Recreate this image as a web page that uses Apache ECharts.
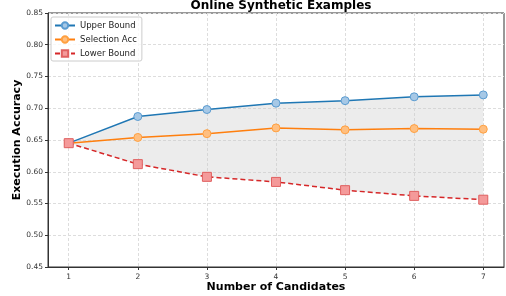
<!DOCTYPE html>
<html lang="en" style="height: 100%">
<head>
    <meta charset="utf-8">
</head>
<body style="height: 100%; margin: 0">
<div id="container" style="width: 506px; height: 296px"></div>
<script type="text/javascript" src="https://fastly.jsdelivr.net/npm/echarts@6/dist/echarts.min.js"></script>
<script type="text/javascript">

    const candidates = [1, 2, 3, 4, 5, 6, 7];
    const upperBound = [0.645, 0.687, 0.698, 0.708, 0.712, 0.718, 0.721];
    const selectionAcc = [0.645, 0.654, 0.660, 0.669, 0.666, 0.668, 0.667];
    const lowerBound = [0.645, 0.612, 0.592, 0.584, 0.571, 0.562, 0.556];

    const font = 'DejaVu Sans';

    var dom = document.getElementById('container');
    var myChart = echarts.init(dom, null, { renderer: 'canvas' });

    const pairs = arr => candidates.map((c, i) => [c, arr[i]]);
    const bandData = candidates.map((c, i) => [c, lowerBound[i], upperBound[i]]);

    // shaded band between lower and upper bound, one polygon through axis coords
    function renderBand(params, api) {
        if (params.dataIndex !== 0) {
            return null;
        }
        const top = [], bottom = [];
        for (let i = 0; i < bandData.length; i++) {
            top.push(api.coord([bandData[i][0], bandData[i][2]]));
            bottom.unshift(api.coord([bandData[i][0], bandData[i][1]]));
        }
        return {
            type: 'polygon',
            shape: { points: top.concat(bottom) },
            style: { fill: 'rgba(200,200,200,0.35)' },
            silent: true
        };
    }

    const option = {
        animation: false,
        textStyle: { fontFamily: font },
        title: {
            text: 'Online Synthetic Examples',
            left: 276,
            textAlign: 'center',
            top: -5,
            textStyle: { fontFamily: font, fontSize: 12, fontWeight: 'bold', color: '#000' }
        },
        legend: {
            data: ['Upper Bound', 'Selection Acc', 'Lower Bound'],
            orient: 'vertical',
            left: 51,
            top: 17,
            itemWidth: 20,
            itemHeight: 8,
            itemGap: 5,
            padding: [4, 5, 3, 3],
            borderColor: '#ccc',
            borderWidth: 1,
            borderRadius: 2,
            backgroundColor: 'rgba(255,255,255,0.8)',
            textStyle: { fontFamily: font, fontSize: 8.5, color: '#222' }
        },
        grid: {
            left: 48,
            right: 2,
            top: 13,
            bottom: 29,
            outerBoundsMode: 'none',
            show: true,
            borderColor: '#333',
            borderWidth: 1
        },
        xAxis: {
            type: 'value',
            min: 0.7,
            max: 7.3,
            name: 'Number of Candidates',
            nameLocation: 'middle',
            nameGap: 15,
            nameMoveOverlap: false,
            nameTextStyle: { fontFamily: font, fontSize: 11, fontWeight: 'bold', color: '#000' },
            axisLine: { show: true, onZero: false, lineStyle: { color: '#333' } },
            axisTick: { show: true, length: 3, customValues: candidates, lineStyle: { color: '#333' } },
            axisLabel: { customValues: candidates, fontSize: 7.5, color: '#333', margin: 6 },
            splitLine: { show: true, lineStyle: { color: '#ddd', type: [3, 2] } }
        },
        yAxis: {
            type: 'value',
            min: 0.45,
            max: 0.85,
            interval: 0.05,
            name: 'Execution Accuracy',
            nameLocation: 'middle',
            nameGap: 25,
            nameMoveOverlap: false,
            nameTextStyle: { fontFamily: font, fontSize: 11, fontWeight: 'bold', color: '#000' },
            axisLine: { show: true, lineStyle: { color: '#333' } },
            axisTick: { show: true, length: 3, lineStyle: { color: '#333' } },
            axisLabel: { fontSize: 7.5, color: '#333', margin: 5, formatter: v => v.toFixed(2) },
            splitLine: { show: true, lineStyle: { color: '#ddd', type: [3, 2] } }
        },
        series: [
            {
                name: 'band',
                type: 'custom',
                renderItem: renderBand,
                data: bandData,
                encode: { x: 0, y: [1, 2] },
                silent: true,
                z: 1
            },
            {
                name: 'Upper Bound',
                type: 'line',
                data: pairs(upperBound),
                color: '#1f77b4',
                symbol: 'circle',
                symbolSize: 8,
                lineStyle: { color: '#1f77b4', width: 1.5 },
                itemStyle: { color: '#a6c8e6', borderColor: '#5a9bd0', borderWidth: 1 },
                z: 3
            },
            {
                name: 'Selection Acc',
                type: 'line',
                data: pairs(selectionAcc),
                color: '#ff7f0e',
                symbol: 'circle',
                symbolSize: 8,
                lineStyle: { color: '#ff7f0e', width: 1.5 },
                itemStyle: { color: '#ffbf80', borderColor: '#ffa040', borderWidth: 1 },
                z: 3
            },
            {
                name: 'Lower Bound',
                type: 'line',
                data: pairs(lowerBound),
                color: '#d62728',
                symbol: 'rect',
                symbolSize: 9,
                lineStyle: { color: '#d62728', width: 1.5, type: [5, 3] },
                itemStyle: { color: '#f49a9a', borderColor: '#e06060', borderWidth: 1 },
                z: 3
            }
        ]
    };

    myChart.setOption(option);
    window.addEventListener('resize', myChart.resize);

</script>
</body>
</html>
